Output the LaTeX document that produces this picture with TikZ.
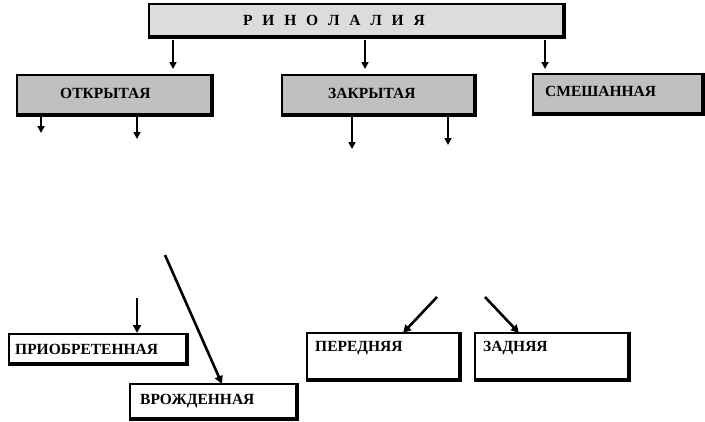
\documentclass[tikz,border=0pt]{standalone}
\usepackage{fontspec}
\setmainfont{Liberation Serif}
\usetikzlibrary{arrows.meta}
\definecolor{topgray}{HTML}{DCDCDC}
\definecolor{boxgray}{HTML}{C0C0C0}
\tikzset{
  box/.style={draw=black, line width=2.2pt, inner sep=0pt, anchor=north west},
  lbl/.style={font=\fontsize{15.5}{18}\selectfont\bfseries, inner sep=0pt, anchor=west},
  shadowline/.style={line width=2pt},
  arr/.style={line width=1.7pt, -{Triangle[width=7pt,length=7pt]}},
  thickarr/.style={line width=2.6pt, -{Triangle[width=8pt,length=8pt]}}
}
\newcommand{\boxshadow}[1]{\draw[shadowline] ([xshift=0.9pt,yshift=0.5pt]#1.north east) -- ([xshift=0.9pt,yshift=-0.9pt]#1.south east) -- ([xshift=-0.5pt,yshift=-0.9pt]#1.south west);}
\begin{document}
\begin{tikzpicture}[x=1pt,y=-1pt]
\useasboundingbox[fill=white] (0,0) rectangle (705,421);
% boxes
\node[box, fill=topgray, minimum width=414pt, minimum height=32pt] (top) at (148,3) {};
\node[box, fill=boxgray, minimum width=194pt, minimum height=39pt] (otk) at (16,74) {};
\node[box, fill=boxgray, minimum width=192pt, minimum height=39pt] (zak) at (281,74) {};
\node[box, fill=boxgray, minimum width=169pt, minimum height=39pt] (sme) at (532,73) {};
\node[box, fill=white, minimum width=177pt, minimum height=29pt] (pri) at (8,333) {};
\node[box, fill=white, minimum width=166pt, minimum height=34pt] (vro) at (129,383) {};
\node[box, fill=white, minimum width=152pt, minimum height=46pt] (per) at (306,332) {};
\node[box, fill=white, minimum width=153pt, minimum height=46pt] (zad) at (474,332) {};
\foreach \b in {top,otk,zak,sme,pri,vro,per,zad} {\boxshadow{\b}}
% labels
\node[lbl] (ltop) at (243,20) {{\spaceskip=9.8pt Р И Н О Л А Л И Я}};
\node[lbl] (lotk) at (60,93) {ОТКРЫТАЯ};
\node[lbl] (lzak) at (328,93) {ЗАКРЫТАЯ};
\node[lbl] (lsme) at (545,91) {СМЕШАННАЯ};
\node[lbl] (lpri) at (15,349) {ПРИОБРЕТЕННАЯ};
\node[lbl] (lvro) at (140,401) {ВРОЖДЕННАЯ};
\node[lbl] (lper) at (315,348) {ПЕРЕДНЯЯ};
\node[lbl] (lzad) at (483,348) {ЗАДНЯЯ};
% free arrow ends
\coordinate (t1s) at (173,40); \coordinate (t1e) at (173,69);
\coordinate (t2s) at (365,40); \coordinate (t2e) at (365,69);
\coordinate (t3s) at (545,40); \coordinate (t3e) at (545,69);
\coordinate (o1s) at (41,113); \coordinate (o1e) at (41,133);
\coordinate (o2s) at (137,113); \coordinate (o2e) at (137,139);
\coordinate (z1s) at (352,113); \coordinate (z1e) at (352,149);
\coordinate (z2s) at (448,113); \coordinate (z2e) at (448,145);
\coordinate (ds) at (165,255); \coordinate (de) at (222,384);
\coordinate (ps) at (137,298); \coordinate (pe) at (137,333);
\coordinate (as) at (437,297); \coordinate (ae) at (403,333);
\coordinate (bs) at (485,297); \coordinate (be) at (519,333);
% arrows
\draw[arr] (t1s) -- (t1e);
\draw[arr] (t2s) -- (t2e);
\draw[arr] (t3s) -- (t3e);
\draw[arr] (o1s) -- (o1e);
\draw[arr] (o2s) -- (o2e);
\draw[arr] (z1s) -- (z1e);
\draw[arr] (z2s) -- (z2e);
\draw[thickarr] (ds) -- (de);
\draw[thickarr] (ps) -- (pe);
\draw[thickarr] (as) -- (ae);
\draw[thickarr] (bs) -- (be);
\end{tikzpicture}
\end{document}
